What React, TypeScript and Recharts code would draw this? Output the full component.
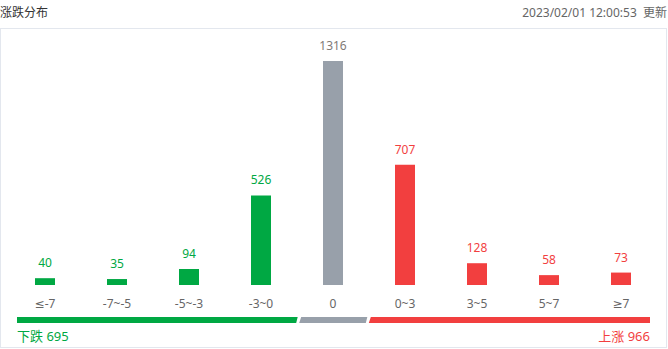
import React from "react";
import { BarChart, Bar, XAxis, YAxis, LabelList, Cell } from "recharts";

const categories = ["≤-7", "-7~-5", "-5~-3", "-3~0", "0", "0~3", "3~5", "5~7", "≥7"];
const counts = [40, 35, 94, 526, 1316, 707, 128, 58, 73];
const zeroIndex = 4;

// bottom summary strip: down / flat / up share of the strip width
const stripLabels = ["down", "flat", "up"];
const stripShares = [44.5, 11, 44.5];
const downTotal = 695;
const upTotal = 966;

const GREEN = "#00a843";
const RED = "#f23f3f";
const GRAY = "#98a0aa";
const FONT = '"Noto Sans", "DejaVu Sans", "Noto Sans CJK SC", sans-serif';

const colorAt = (i: number) => (i < zeroIndex ? GREEN : i === zeroIndex ? GRAY : RED);
const labelColorAt = (i: number) => (i === zeroIndex ? "#7f7a76" : colorAt(i));

const data = categories.map((name, i) => ({ name, value: counts[i] }));
const stripRow = [
  stripLabels.reduce((o: any, k, i) => ({ ...o, [k]: stripShares[i] }), { name: "strip" }),
];

const ValueLabel = (props: any) => {
  const { x, y, width, value, index } = props;
  return (
    <text
      x={x + width / 2}
      y={y - 11}
      textAnchor="middle"
      fontSize={12}
      fontFamily={FONT}
      fill={labelColorAt(index)}
    >
      {value}
    </text>
  );
};

const makeSegment = (first: boolean, last: boolean, fill: string) => (props: any) => {
  const { x, y, width, height } = props;
  const l1 = first ? x : x + 0.5; // bottom-left
  const l2 = first ? x : x + 2.5; // top-left
  const r1 = last ? x + width : x + width - 1; // top-right
  const r2 = last ? x + width : x + width - 2.5; // bottom-right
  const pts = `${l2},${y} ${r1},${y} ${r2},${y + height} ${l1},${y + height}`;
  return <polygon points={pts} fill={fill} />;
};

export default function App() {
  return (
    <div
      style={{
        position: "absolute",
        left: 0,
        top: 0,
        width: 668,
        height: 349,
        background: "#fff",
        fontFamily: FONT,
      }}
    >
      <div style={{ position: "absolute", left: 0, top: 4, fontSize: 12, lineHeight: "18px", color: "#333" }}>
        涨跌分布
      </div>
      <div style={{ position: "absolute", right: 1, top: 4, fontSize: 12, lineHeight: "18px", color: "#666" }}>
        2023/02/01 12:00:53&nbsp;&nbsp;更新
      </div>
      <div
        style={{
          position: "absolute",
          left: 0,
          top: 28,
          width: 665,
          height: 318,
          border: "1px solid #e3e7ee",
        }}
      />
      <div style={{ position: "absolute", left: 0, top: 0 }}>
        <BarChart width={668} height={320} data={data} margin={{ top: 61, right: 11, left: 9, bottom: 5 }}>
          <XAxis
            dataKey="name"
            axisLine={false}
            tickLine={false}
            height={30}
            tickMargin={8}
            interval={0}
            tick={{ fill: "#666", fontSize: 12, fontFamily: FONT }}
          />
          <YAxis hide domain={[0, "dataMax"]} />
          <Bar dataKey="value" barSize={20} isAnimationActive={false}>
            {data.map((d, i) => (
              <Cell key={d.name} fill={colorAt(i)} />
            ))}
            <LabelList dataKey="value" content={<ValueLabel />} />
          </Bar>
        </BarChart>
      </div>
      <div style={{ position: "absolute", left: 0, top: 317 }}>
        <BarChart
          width={668}
          height={6}
          data={stripRow}
          layout="vertical"
          margin={{ top: 0, right: 18, left: 17, bottom: 0 }}
          barCategoryGap={0}
        >
          <XAxis type="number" hide domain={[0, 100]} />
          <YAxis type="category" dataKey="name" hide />
          {stripLabels.map((k, i) => (
            <Bar
              key={k}
              dataKey={k}
              stackId="s"
              isAnimationActive={false}
              shape={makeSegment(i === 0, i === stripLabels.length - 1, [GREEN, GRAY, RED][i])}
            />
          ))}
        </BarChart>
      </div>
      <div style={{ position: "absolute", left: 17, top: 327, fontSize: 13, lineHeight: "18px", color: GREEN }}>
        下跌 {downTotal}
      </div>
      <div style={{ position: "absolute", right: 18, top: 327, fontSize: 13, lineHeight: "18px", color: RED }}>
        上涨 {upTotal}
      </div>
    </div>
  );
}
